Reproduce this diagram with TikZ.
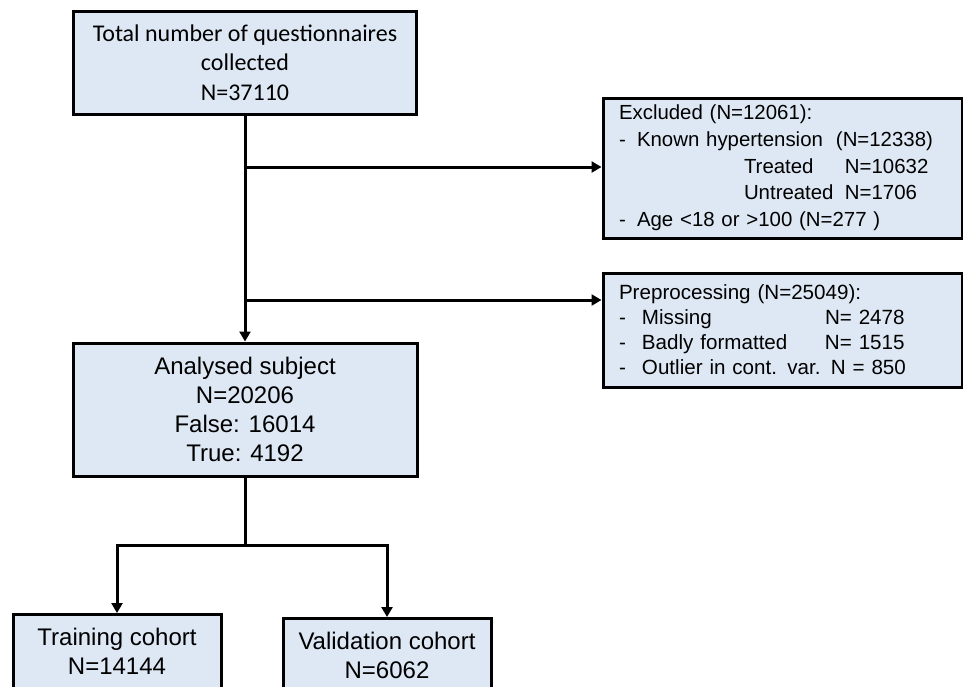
\documentclass[tikz,border=0pt]{standalone}
\usepackage{fontspec}
\setmainfont{Liberation Sans}
\newfontfamily\calibri{Carlito}
\usetikzlibrary{arrows.meta}
\definecolor{boxfill}{HTML}{DEE8F4}
\begin{document}
\begin{tikzpicture}[x=1pt,y=-1pt,
  box/.style={draw=black, fill=boxfill, line width=3pt, inner sep=0pt},
  conn/.style={line width=3pt},
  arr/.style={line width=3pt, -{Triangle[width=11pt,length=10pt]}},
  bigtxt/.style={font={\fontsize{24}{29}\selectfont}},
]
\useasboundingbox (0,0) rectangle (963,686);
\clip (0,0) rectangle (963,686);
\node[box, minimum width=343pt, minimum height=103pt, align=center,
  font={\calibri\fontsize{24}{29.5}\selectfont}] (total) at (245,62.5)
  {Total number of questionnaires\\collected\\N=37110};
\node[box, minimum width=359pt, minimum height=140pt, text width=327pt, align=left,
  font={\fontsize{20.4}{26.7}\selectfont}] (excl) at (782.5,168)
  {Excluded (N=12061):\\
   \makebox[18pt][l]{-}\makebox[199pt][l]{Known hypertension}(N=12338)\\
   \hspace*{125pt}\makebox[101pt][l]{Treated}N=10632\\
   \hspace*{125pt}\makebox[101pt][l]{Untreated}N=1706\\
   \makebox[18pt][l]{-}Age <18 or >100 (N=277 )};
\node[box, minimum width=359pt, minimum height=114pt, text width=327pt, align=left,
  font={\fontsize{20.6}{25}\selectfont}] (prep) at (782.5,330)
  {Preprocessing (N=25049):\\
   \makebox[23pt][l]{-}\makebox[183pt][l]{Missing}N= 2478\\
   \makebox[23pt][l]{-}\makebox[183pt][l]{Badly formatted}N= 1515\\
   \makebox[23pt][l]{-}Outlier in cont. var. N = 850};
\node[box, bigtxt, minimum width=344pt, minimum height=133pt, align=center] (anal) at (245,409.5)
  {Analysed subject\\N=20206\\False: 16014\\True: 4192};
\node[box, bigtxt, anchor=north, minimum width=208pt, inner ysep=14pt, align=center] (train) at (117,613)
  {Training cohort\\N=14144\\\rule{0pt}{20pt}};
\node[box, bigtxt, anchor=north, minimum width=208pt, inner ysep=14pt, align=center] (valid) at (387,617)
  {Validation cohort\\N=6062\\\rule{0pt}{20pt}};
\coordinate (b1) at (245,167);
\coordinate (b2) at (245,300);
\coordinate (split) at (245,545);
\draw[arr] (total.south) -- (anal.north);
\draw[arr] (b1) -- (b1 -| excl.west);
\draw[arr] (b2) -- (b2 -| prep.west);
\draw[conn] (anal.south) -- (split);
\draw[arr] (split) -| (train.north);
\draw[arr] (split) -| (valid.north);
\end{tikzpicture}
\end{document}
